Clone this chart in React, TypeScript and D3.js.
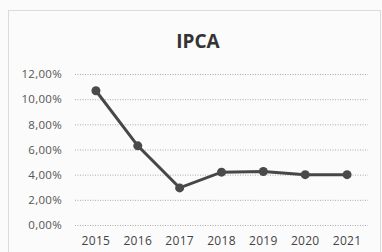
import React, { useRef, useEffect } from "react";
import * as d3 from "d3";

const years = ["2015", "2016", "2017", "2018", "2019", "2020", "2021"];
const ipca = [10.67, 6.29, 2.95, 4.2, 4.25, 4.0, 4.0];
const yTicks = [0, 2, 4, 6, 8, 10, 12];

const App: React.FC = () => {
  const ref = useRef<SVGSVGElement | null>(null);

  useEffect(() => {
    const svg = d3.select(ref.current);
    svg.selectAll("*").remove();
    const width = 382;
    const height = 252;
    const font = "'Open Sans', 'Liberation Sans', sans-serif";

    svg.attr("width", width).attr("height", height);
    svg.append("rect").attr("width", width).attr("height", height).attr("fill", "#fbfbfb");

    // chart border
    svg
      .append("rect")
      .attr("x", 8.5)
      .attr("y", 10.5)
      .attr("width", 372)
      .attr("height", 250)
      .attr("fill", "none")
      .attr("stroke", "#bbb")
      .attr("stroke-dasharray", "1,1");

    svg
      .append("text")
      .attr("x", 198)
      .attr("y", 48)
      .attr("text-anchor", "middle")
      .attr("font-family", font)
      .attr("font-weight", "bold")
      .attr("font-size", 19)
      .attr("fill", "#333")
      .text("IPCA");

    const x = d3.scaleBand().domain(years).range([75, 368]);
    const y = d3.scaleLinear().domain([0, 12]).range([225, 74]);

    const yAxis = svg
      .append("g")
      .attr("transform", "translate(75,0)")
      .call(
        d3
          .axisLeft(y)
          .tickValues(yTicks)
          .tickSize(-293)
          .tickPadding(13)
          .tickFormat((d) => (d as number).toFixed(2).replace(".", ",") + "%")
      );
    yAxis.select(".domain").remove();
    yAxis
      .selectAll("line")
      .attr("stroke", "#aaa")
      .attr("stroke-dasharray", "1,1.5");
    yAxis
      .selectAll("text")
      .attr("font-family", font)
      .attr("font-size", 11.5)
      .attr("letter-spacing", 0.3)
      .attr("fill", "#555");

    const xAxis = svg
      .append("g")
      .attr("transform", "translate(0,225)")
      .call(d3.axisBottom(x).tickSize(0).tickPadding(11));
    xAxis.select(".domain").remove();
    xAxis
      .selectAll("text")
      .attr("font-family", font)
      .attr("font-size", 12)
      .attr("letter-spacing", 0.3)
      .attr("fill", "#444");

    const cx = (d: string) => (x(d) || 0) + x.bandwidth() / 2;
    const pts = years.map((yr, i) => ({ yr, v: ipca[i] }));

    svg
      .append("path")
      .datum(pts)
      .attr("fill", "none")
      .attr("stroke", "#474747")
      .attr("stroke-width", 3)
      .attr(
        "d",
        d3
          .line<{ yr: string; v: number }>()
          .x((d) => cx(d.yr))
          .y((d) => y(d.v))
      );

    svg
      .append("g")
      .selectAll("circle")
      .data(pts)
      .enter()
      .append("circle")
      .attr("cx", (d) => cx(d.yr))
      .attr("cy", (d) => y(d.v))
      .attr("r", 4.5)
      .attr("fill", "#4a4a4a");
  }, []);

  return (
    <svg
      ref={ref}
      style={{ position: "absolute", left: 0, top: 0, display: "block" }}
    ></svg>
  );
};

export default App;
